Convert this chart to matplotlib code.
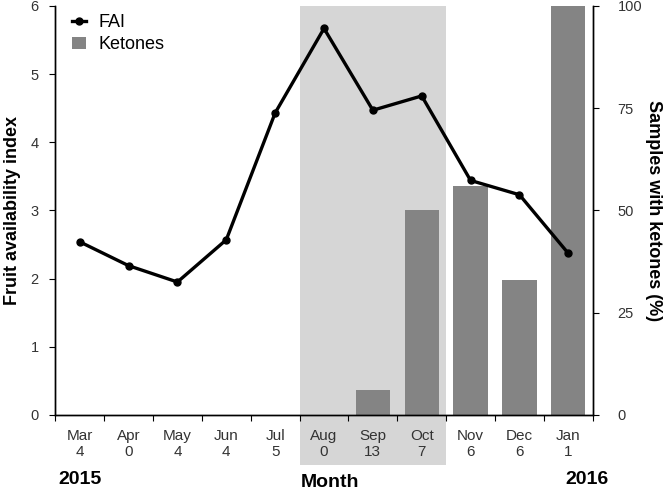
import matplotlib
matplotlib.use('Agg')
import matplotlib.pyplot as plt
import matplotlib.transforms as mtransforms
from matplotlib.patches import Rectangle
from matplotlib.lines import Line2D
import numpy as np

plt.rcParams['font.family'] = ['Liberation Sans', 'DejaVu Sans']

# Data
months = ['Mar', 'Apr', 'May', 'Jun', 'Jul', 'Aug', 'Sep', 'Oct', 'Nov', 'Dec', 'Jan']
n_samples = [4, 0, 4, 4, 5, 0, 13, 7, 6, 6, 1]
fai = [2.54, 2.19, 1.95, 2.57, 4.43, 5.67, 4.47, 4.68, 3.44, 3.23, 2.37]
ketones = [0, 0, 0, 0, 0, 0, 6, 50, 56, 33, 100]

x = np.arange(len(months))
labels = [f'{m}\n{n}' for m, n in zip(months, n_samples)]

fig = plt.figure(figsize=(6.66, 4.94), dpi=100)
ax = fig.add_axes([0.083, 0.160, 0.807, 0.828])
ax2 = ax.twinx()

# shaded period (Aug-Oct), running down over the tick labels
trans = mtransforms.blended_transform_factory(ax2.transData, ax2.transAxes)
shade = Rectangle((4.5, -0.122), 3, 1.122, transform=trans, facecolor='#d6d6d6',
                  edgecolor='none', clip_on=False, zorder=0)
ax2.add_patch(shade)

# bars on the right axis, line on the left axis (drawn on top)
ax.set_zorder(ax2.get_zorder() + 1)
ax.patch.set_visible(False)
ax2.bar(x, ketones, width=0.7, color='#848484', zorder=2)
ax.plot(x, fai, color='black', lw=2.4, marker='o', ms=5, zorder=3)

ax.set_xlim(-0.5, 10.5)
ax.set_ylim(0, 6)
ax2.set_ylim(0, 100)
ax.set_yticks(range(7))
ax2.set_yticks([0, 25, 50, 75, 100])

ax.set_xticks(np.arange(-0.5, 11, 1))
ax.set_xticklabels([])
ax.set_xticks(x, minor=True)
ax.set_xticklabels(labels, minor=True)
ax.tick_params(axis='x', which='minor', length=0, pad=10, labelsize=11, labelcolor='#333333')
ax.tick_params(axis='x', which='major', length=4, direction='out')
ax.tick_params(axis='y', length=4, labelsize=10.5, labelcolor='#333333', pad=8)
ax2.tick_params(axis='y', length=4, labelsize=10.5, labelcolor='#333333', pad=14)

for a in (ax, ax2):
    a.spines['top'].set_visible(False)
    for s in ('left', 'right', 'bottom'):
        a.spines[s].set_linewidth(1.0)

ax.set_ylabel('Fruit availability index', fontsize=13, fontweight='bold', labelpad=7)
ax2.set_ylabel('Samples with ketones (%)', fontsize=13, fontweight='bold',
               rotation=270, labelpad=14)

fig.text(0.495, 0.024, 'Month', fontsize=14, fontweight='bold', ha='center', va='center')
fig.text(0.12, 0.030, '2015', fontsize=14, fontweight='bold', ha='center', va='center')
fig.text(0.882, 0.030, '2016', fontsize=14, fontweight='bold', ha='center', va='center')

handles = [Line2D([0], [0], color='black', lw=2.4, marker='o', ms=5),
           Rectangle((0, 0), 1, 1, facecolor='#848484')]
ax.legend(handles, ['FAI', 'Ketones'], loc='upper left', frameon=False, fontsize=13,
          handlelength=0.8, handletextpad=0.7, bbox_to_anchor=(0.0, 1.02),
          labelspacing=0.3)

fig.savefig('out.png', dpi=100)
